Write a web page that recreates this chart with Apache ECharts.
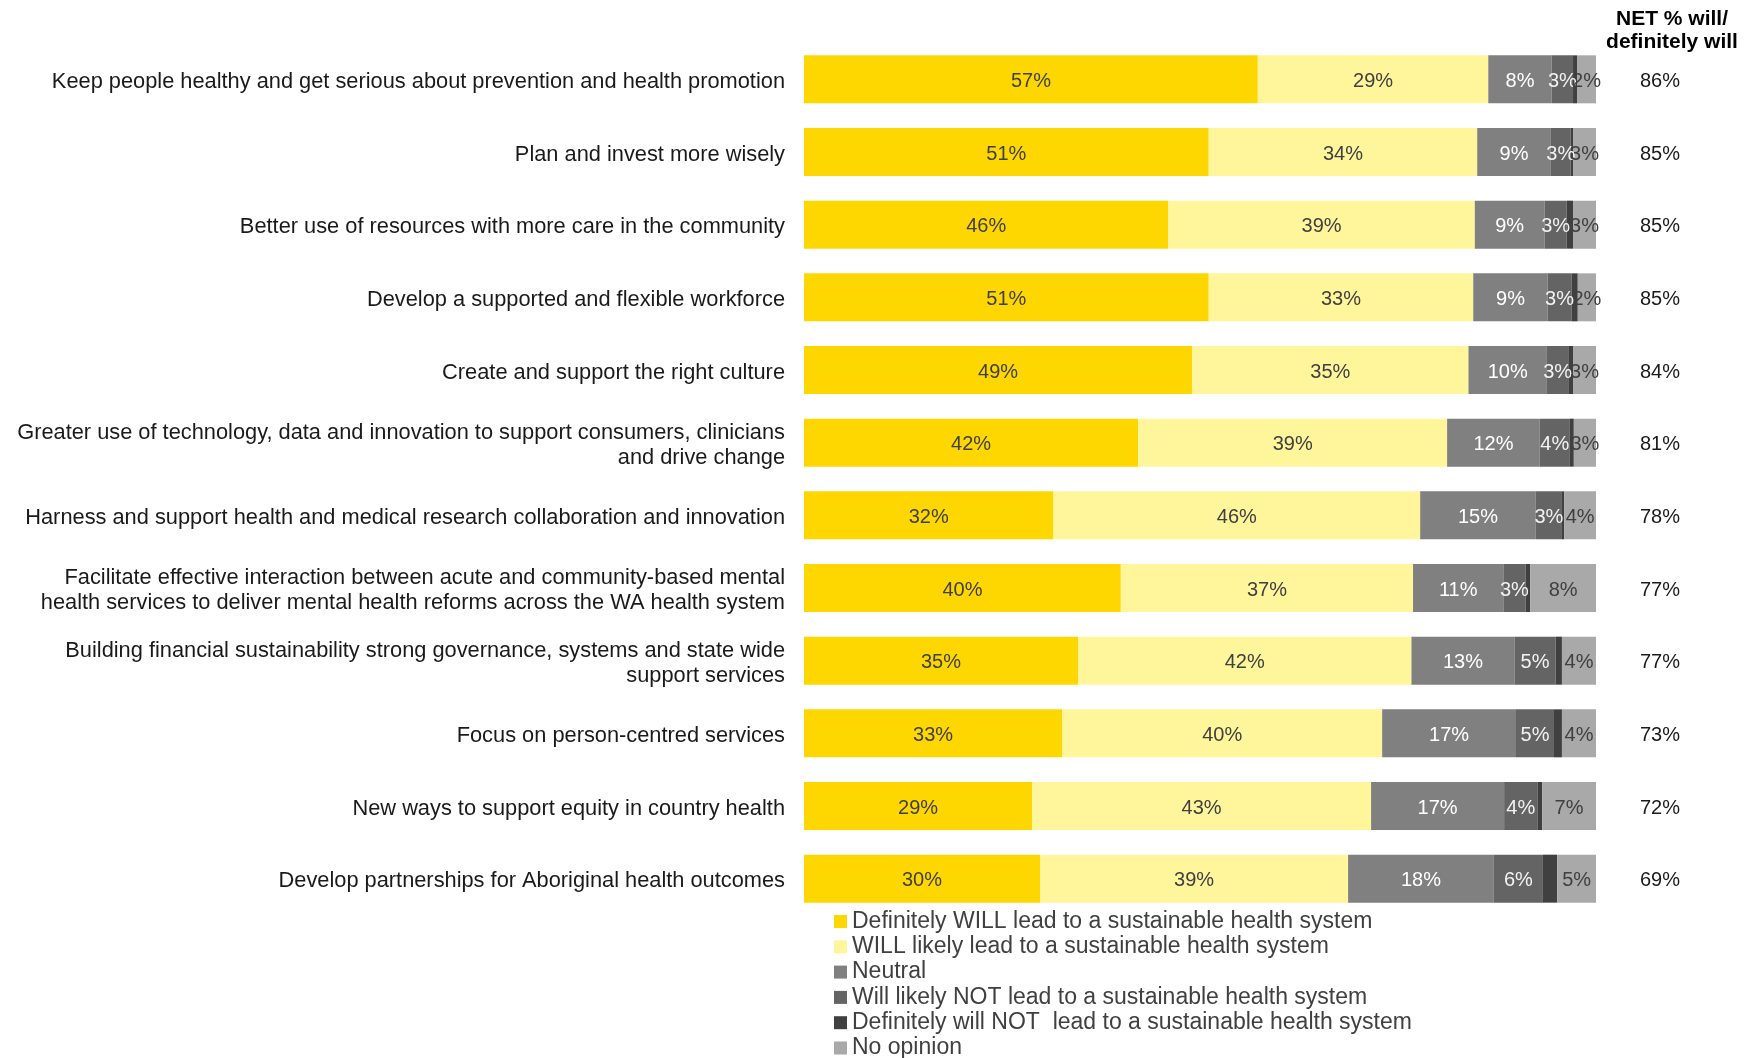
<!DOCTYPE html>
<html>
<head>
<meta charset="utf-8">
<script src="https://cdn.jsdelivr.net/npm/echarts@6/dist/echarts.min.js"></script>
<style>
  html, body { margin: 0; padding: 0; background: #ffffff; }
  #chart { width: 1751px; height: 1058px; }
</style>
</head>
<body>
<div id="chart"></div>
<script>
// ---- Data ----
const categories = [
  "Keep people healthy and get serious about prevention and health promotion",
  "Plan and invest more wisely",
  "Better use of resources with more care in the community",
  "Develop a supported and flexible workforce",
  "Create and support the right culture",
  "Greater use of technology, data and innovation to support consumers, clinicians\nand drive change",
  "Harness and support health and medical research collaboration and innovation",
  "Facilitate effective interaction between acute and community-based mental\nhealth services to deliver mental health reforms across the WA health system",
  "Building financial sustainability strong governance, systems and state wide\nsupport services",
  "Focus on person-centred services",
  "New ways to support equity in country health",
  "Develop partnerships for Aboriginal health outcomes"
];
const seriesNames = [
  "Definitely WILL lead to a sustainable health system",
  "WILL likely lead to a sustainable health system",
  "Neutral",
  "Will likely NOT lead to a sustainable health system",
  "Definitely will NOT  lead to a sustainable health system",
  "No opinion"
];
const definitelyWill   = [57.3, 51.1, 46.0, 51.1, 49.0, 42.2, 31.5, 40.0, 34.6, 32.6, 28.8, 29.8];
const likelyWill       = [29.1, 33.9, 38.7, 33.4, 34.9, 39.0, 46.3, 36.9, 42.1, 40.4, 42.8, 38.9];
const neutral          = [8.0, 9.3, 8.8, 9.4, 9.9, 11.7, 14.6, 11.4, 13.0, 16.9, 16.8, 18.4];
const likelyNot        = [2.7, 2.5, 2.8, 3.0, 2.7, 3.8, 3.3, 2.8, 5.2, 4.8, 4.2, 6.2];
const definitelyNot    = [0.5, 0.3, 0.8, 0.8, 0.6, 0.5, 0.3, 0.6, 0.8, 1.0, 0.6, 1.8];
const noOpinion        = [2.4, 2.9, 2.9, 2.3, 2.9, 2.8, 4.0, 8.3, 4.3, 4.3, 6.8, 4.9];
const netWill          = ["86%", "85%", "85%", "85%", "84%", "81%", "78%", "77%", "77%", "73%", "72%", "69%"];
const netHeader        = "NET % will/\ndefinitely will";

// ---- Styles ----
const colors = ["#FFD700", "#FFF59B", "#808080", "#646464", "#404040", "#A9A9A9"];
const labelColors = ["#404040", "#404040", "#ffffff", "#f2f2f2", null, "#404040"];
const FONT = "'Liberation Sans', Arial, sans-serif";
const seriesData = [definitelyWill, likelyWill, neutral, likelyNot, definitelyNot, noOpinion];

const series = seriesData.map((arr, i) => ({
  name: seriesNames[i],
  type: "bar",
  stack: "total",
  barWidth: 48,
  data: arr,
  itemStyle: { color: colors[i] },
  label: labelColors[i] ? {
    show: true,
    position: "inside",
    offset: [0, 2],
    color: labelColors[i],
    fontFamily: FONT,
    fontSize: 20,
    formatter: p => Math.round(p.value) + "%"
  } : { show: false },
  emphasis: { disabled: true },
  animation: false
}));

const wrapRich = v => String(v).split("\n").map(s => "{a|" + s + "}").join("\n");

const chart = echarts.init(document.getElementById("chart"), null, { renderer: "canvas" });
chart.setOption({
  backgroundColor: "#ffffff",
  animation: false,
  textStyle: { fontFamily: FONT },
  grid: { left: 804, right: 155, top: 43, bottom: 143, containLabel: false },
  xAxis: {
    type: "value", min: 0, max: 100, show: false
  },
  yAxis: [
    {
      type: "category",
      data: categories,
      inverse: true,
      axisLine: { show: false },
      axisTick: { show: false },
      axisLabel: {
        margin: 19,
        align: "right",
        formatter: wrapRich,
        rich: {
          a: {
            color: "#1a1a1a",
            fontFamily: FONT,
            fontSize: 21.8,
            lineHeight: 25,
            padding: [5, 0, 0, 0],
            align: "right"
          }
        }
      }
    },
    {
      type: "category",
      data: netWill,
      inverse: true,
      position: "right",
      axisLine: { show: false },
      axisTick: { show: false },
      axisLabel: {
        margin: 44,
        align: "left",
        formatter: wrapRich,
        rich: {
          a: {
            color: "#1a1a1a",
            fontFamily: FONT,
            fontSize: 20,
            padding: [4, 0, 0, 0]
          }
        }
      }
    }
  ],
  legend: {
    orient: "vertical",
    left: 834,
    top: 910,
    height: 160,
    padding: 0,
    data: seriesNames,
    icon: "rect",
    itemWidth: 13,
    itemHeight: 13,
    itemGap: 2.3,
    selectedMode: false,
    textStyle: { color: "#404040", fontFamily: FONT, fontSize: 23, lineHeight: 23 }
  },
  graphic: [{
    type: "text",
    x: 1672,
    y: 8,
    style: {
      text: netHeader,
      fill: "#000000",
      font: "bold 21px " + FONT,
      textAlign: "center",
      textVerticalAlign: "top",
      lineHeight: 23
    }
  }],
  series: series
});
</script>
</body>
</html>
